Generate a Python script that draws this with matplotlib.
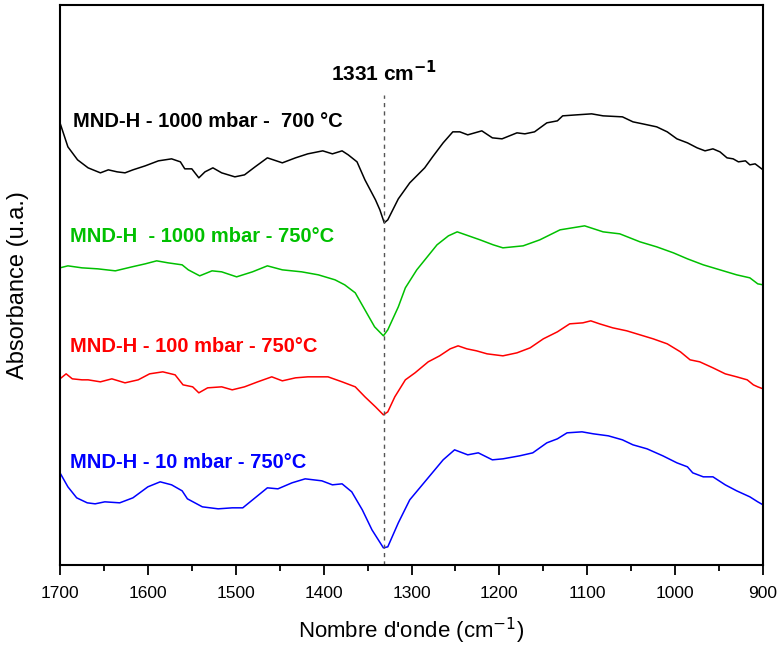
import numpy as np
import matplotlib
matplotlib.use("Agg")
import matplotlib.pyplot as plt
from matplotlib.ticker import MultipleLocator

plt.rcParams['font.family'] = ['Liberation Sans', 'DejaVu Sans']

# spectra (arbitrary units, curves already offset)
wn_black = [1700, 1691, 1680, 1668, 1654, 1645, 1635, 1626, 1617, 1603, 1588, 1573, 1563, 1558,
            1550, 1542, 1535, 1526, 1516, 1501, 1490, 1478, 1464, 1447, 1432, 1418, 1401, 1390,
            1379, 1372, 1362, 1353, 1341, 1336, 1331, 1327, 1315, 1302, 1285, 1276, 1264, 1253,
            1245, 1236, 1220, 1208, 1197, 1180, 1171, 1160, 1146, 1134, 1128, 1112, 1095, 1082,
            1060, 1048, 1037, 1021, 1009, 998, 986, 975, 966, 957, 949, 941, 934, 928, 920, 915,
            909, 903, 900]
ab_black = [442, 418, 405, 397, 392, 395, 393, 392, 395, 399, 404, 406, 403, 396,
            396, 387, 393, 397, 392, 388, 390, 398, 407, 402, 407, 411, 414, 411,
            414, 410, 403, 385, 365, 355, 342, 345, 366, 382, 397, 408, 422, 433,
            433, 430, 434, 427, 426, 432, 431, 433, 442, 444, 449, 450, 451, 449,
            448, 443, 441, 438, 433, 426, 422, 417, 414, 416, 413, 407, 406, 403, 404, 400,
            401, 397, 395]

wn_green = [1700, 1691, 1675, 1657, 1637, 1618, 1603, 1590, 1577, 1561, 1554, 1541, 1527, 1516,
            1499, 1481, 1464, 1447, 1425, 1406, 1387, 1376, 1364, 1353, 1342, 1332, 1327, 1315,
            1307, 1294, 1271, 1258, 1248, 1222, 1207, 1196, 1173, 1154, 1131, 1103, 1082, 1063,
            1040, 1021, 1002, 986, 968, 949, 930, 915, 906, 900]
ab_green = [297, 299, 297, 296, 294, 298, 301, 304, 302, 300, 295, 289, 294, 293,
            288, 293, 299, 295, 293, 290, 285, 280, 272, 255, 238, 229, 235, 258,
            277, 295, 320, 329, 333, 325, 320, 317, 319, 325, 335, 339, 333, 331,
            323, 318, 312, 306, 300, 295, 290, 287, 281, 280]

wn_red = [1700, 1693, 1686, 1675, 1668, 1654, 1641, 1626, 1611, 1598, 1583, 1569, 1560, 1549,
          1542, 1532, 1516, 1504, 1490, 1475, 1459, 1447, 1432, 1418, 1395, 1379, 1364, 1353,
          1341, 1332, 1327, 1319, 1307, 1296, 1281, 1268, 1256, 1247, 1237, 1226, 1214, 1196,
          1180, 1165, 1150, 1134, 1120, 1105, 1096, 1086, 1071, 1055, 1040, 1025, 1009, 994,
          983, 972, 957, 943, 930, 918, 911, 906, 900]
ab_red = [186, 191, 186, 185, 185, 183, 186, 182, 185, 191, 193, 190, 180, 178,
          172, 177, 178, 175, 178, 183, 188, 184, 187, 188, 188, 183, 178, 168,
          158, 150, 153, 168, 185, 192, 203, 209, 216, 219, 216, 214, 211, 209,
          212, 217, 226, 233, 241, 242, 244, 241, 237, 234, 230, 226, 221, 213,
          205, 203, 197, 191, 188, 185, 180, 178, 176]

wn_blue = [1700, 1691, 1681, 1669, 1660, 1649, 1632, 1617, 1600, 1586, 1573, 1561, 1555, 1538,
           1520, 1504, 1492, 1478, 1464, 1452, 1436, 1421, 1402, 1390, 1379, 1368, 1356, 1345,
           1332, 1327, 1315, 1302, 1283, 1264, 1251, 1236, 1224, 1208, 1196, 1177, 1162, 1146,
           1134, 1123, 1106, 1093, 1076, 1060, 1048, 1032, 1014, 998, 986, 980, 968, 957, 943,
           930, 915, 906, 900]
ab_blue = [92, 78, 67, 62, 61, 63, 62, 67, 78, 83, 80, 74, 66, 58,
           56, 57, 57, 67, 77, 76, 82, 86, 84, 80, 81, 73, 55, 35,
           17, 18, 42, 65, 85, 105, 115, 110, 112, 105, 106, 109, 112, 122,
           126, 132, 133, 131, 129, 125, 120, 116, 109, 102, 98, 92, 88, 88, 80,
           74, 68, 63, 60]

labels = ['MND-H - 1000 mbar -  700 °C', 'MND-H  - 1000 mbar - 750°C',
          'MND-H - 100 mbar - 750°C', 'MND-H - 10 mbar - 750°C']
colors = ['black', '#00c000', '#ff0000', '#0000ff']
label_pos = [(1685, 443), (1689, 328), (1689, 218), (1689, 102)]
peak = 1331

fig = plt.figure(figsize=(7.79, 6.47), dpi=100)
ax = fig.add_axes([0.077, 0.127, 0.9025, 0.8655])

series = [(wn_black, ab_black), (wn_green, ab_green), (wn_red, ab_red), (wn_blue, ab_blue)]
for (x, y), c in zip(series, colors):
    ax.plot(x, y, color=c, lw=1.1)

for lab, c, (lx, ly) in zip(labels, colors, label_pos):
    ax.text(lx, ly, lab, color=c, fontsize=14.5, fontweight='bold', va='center', ha='left')

ax.vlines(peak, 0, 470, colors='#555555', linestyles=(0, (3, 3)), lw=1)
ax.text(peak, 492, '1331 cm$^{\\mathbf{-1}}$', fontsize=15, fontweight='bold',
        ha='center', va='center')

ax.set_xlim(1700, 900)
ax.set_ylim(0, 560)
ax.xaxis.set_major_locator(MultipleLocator(100))
ax.xaxis.set_minor_locator(MultipleLocator(50))
ax.tick_params(axis='x', which='major', direction='out', length=7, width=1.3, labelsize=12.5, pad=8)
ax.tick_params(axis='x', which='minor', direction='out', length=4, width=1.3)
ax.set_yticks([])
for s in ax.spines.values():
    s.set_linewidth(1.5)

ax.set_xlabel("Nombre d'onde (cm$^{-1}$)", fontsize=16, labelpad=11)
ax.set_ylabel('Absorbance (u.a.)', fontsize=17, labelpad=22)

fig.savefig('out.png', dpi=100)
